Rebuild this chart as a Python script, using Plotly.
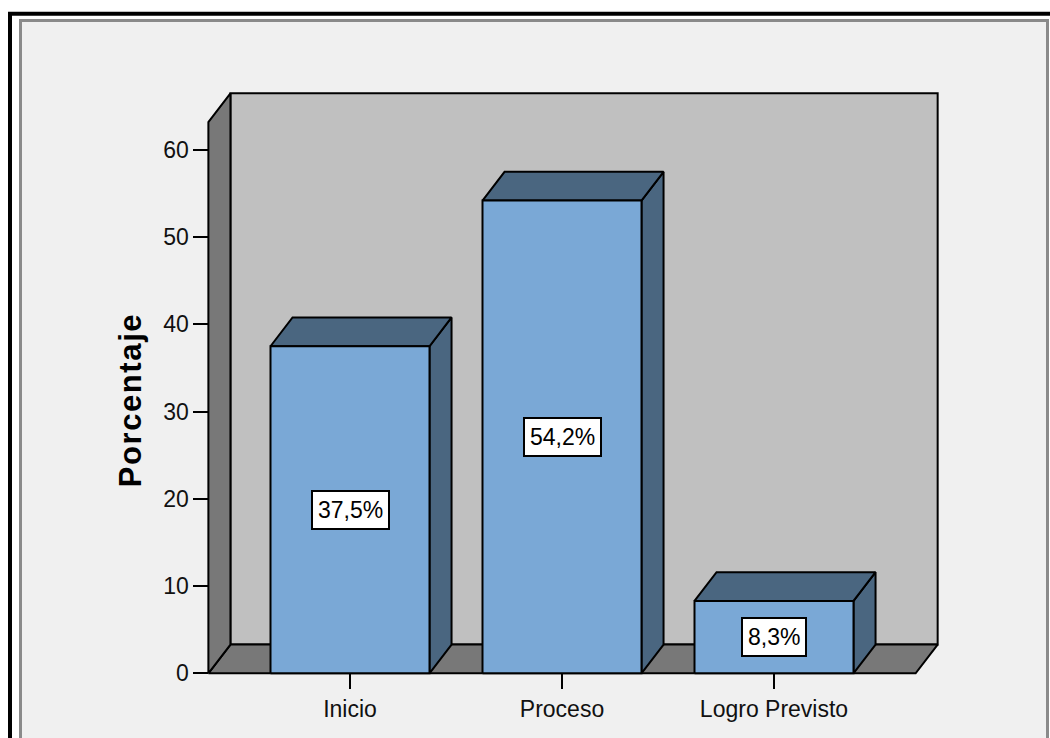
import plotly.graph_objects as go

# Frequency table: percentage of cases per achievement level
categories = ["Inicio", "Proceso", "Logro Previsto"]
percentages = [37.5, 54.2, 8.3]
y_ticks = [0, 10, 20, 30, 40, 50, 60]

# ---- layout constants (pixel mapping of the 3D box) ----
FIG_W, FIG_H = 1050, 738
X0_PX, CAT_PX = 350.0, 212.0      # pixel of category 0, pixels per category
Y0_PX, UNIT_PX = 677.0, 8.77      # pixel of value 0, pixels per percent
BAR_W = 0.75                      # bar width in category units
DX, DY = 0.104, 3.3               # depth offset (category units, percent units)
OVERHANG = 0.668                  # floor extends this far beyond outer bars
WALL_H = 63.2                     # height of the box walls in percent units

X_RANGE = [-0.72, 2.82]
Y_RANGE = [-1.0, 67.5]

FONT = "Arial, Liberation Sans, sans-serif"
TEXT_SIZE = 23
FRONT = "#7AA8D6"
DARK = "#4A6680"
WALL = "#C0C0C0"
FLOOR = "#787878"
EDGE = "black"


def px_x(v):
    return X0_PX + v * CAT_PX


def px_y(v):
    return Y0_PX - v * UNIT_PX


fig = go.Figure()


def face(xs, ys, color):
    fig.add_trace(go.Scatter(
        x=list(xs) + [xs[0]], y=list(ys) + [ys[0]],
        mode="lines", fill="toself", fillcolor=color,
        line=dict(color=EDGE, width=2), hoverinfo="skip", showlegend=False,
    ))


n = len(categories)
xl = -OVERHANG
xr = (n - 1) + OVERHANG

# back wall
face([xl + DX, xr + DX, xr + DX, xl + DX],
     [DY, DY, WALL_H + DY, WALL_H + DY], WALL)
# floor
face([xl, xr, xr + DX, xl + DX], [0, 0, DY, DY], FLOOR)
# left wall
face([xl, xl + DX, xl + DX, xl], [0, DY, WALL_H + DY, WALL_H], FLOOR)

# bars: side, top, front
for i, v in enumerate(percentages):
    a, b = i - BAR_W / 2, i + BAR_W / 2
    face([b, b + DX, b + DX, b], [0, DY, v + DY, v], DARK)
    face([a, b, b + DX, a + DX], [v, v, v + DY, v + DY], DARK)
    face([a, b, b, a], [0, 0, v, v], FRONT)
    fig.add_annotation(
        x=i, y=v / 2, xref="x", yref="y", showarrow=False,
        text=f"{v:.1f}".replace(".", ",") + "%",
        font=dict(family=FONT, size=TEXT_SIZE, color="black"),
        bgcolor="white", bordercolor="black", borderwidth=2, borderpad=5,
    )

# axis title
fig.add_annotation(
    x=130.5 / FIG_W, y=1 - 402 / FIG_H, xref="paper", yref="paper",
    xanchor="center", yanchor="middle",
    showarrow=False, textangle=-90,
    text='<span style="letter-spacing:1.6px">Porcentaje</span>',
    font=dict(family=FONT, size=31, color="black", weight="bold"),
)

# chart frame
fig.add_shape(type="rect", xref="paper", yref="paper", layer="below",
              x0=20.5 / FIG_W, x1=1047.5 / FIG_W, y0=-0.05, y1=1 - 20.5 / FIG_H,
              fillcolor="#F0F0F0", line=dict(color="#8A8A8A", width=3))
fig.add_shape(type="rect", xref="paper", yref="paper", layer="below",
              x0=10 / FIG_W, x1=1.05, y0=-0.05, y1=1 - 13.7 / FIG_H,
              fillcolor="rgba(0,0,0,0)", line=dict(color="black", width=4))

fig.update_layout(
    width=FIG_W, height=FIG_H,
    margin=dict(l=0, r=0, t=0, b=0),
    paper_bgcolor="white", plot_bgcolor="rgba(0,0,0,0)",
    font=dict(family=FONT, size=TEXT_SIZE, color="#111"),
    xaxis=dict(
        range=X_RANGE,
        domain=[px_x(X_RANGE[0]) / FIG_W, px_x(X_RANGE[1]) / FIG_W],
        anchor="free", position=1 - px_y(0) / FIG_H,
        tickmode="array", tickvals=list(range(n)), ticktext=categories,
        ticks="outside", ticklen=15, tickwidth=2, tickcolor="black",
        showline=False, showgrid=False, zeroline=False, fixedrange=True,
        tickfont=dict(family=FONT, size=TEXT_SIZE, color="#111"),
    ),
    yaxis=dict(
        range=Y_RANGE,
        domain=[1 - px_y(Y_RANGE[0]) / FIG_H, 1 - px_y(Y_RANGE[1]) / FIG_H],
        anchor="free", position=px_x(xl) / FIG_W,
        tickmode="array", tickvals=y_ticks,
        ticks="outside", ticklen=15, tickwidth=2, tickcolor="black",
        showline=False, showgrid=False, zeroline=False, fixedrange=True,
        tickfont=dict(family=FONT, size=TEXT_SIZE, color="#111"),
    ),
)

fig.write_html("out.html")
